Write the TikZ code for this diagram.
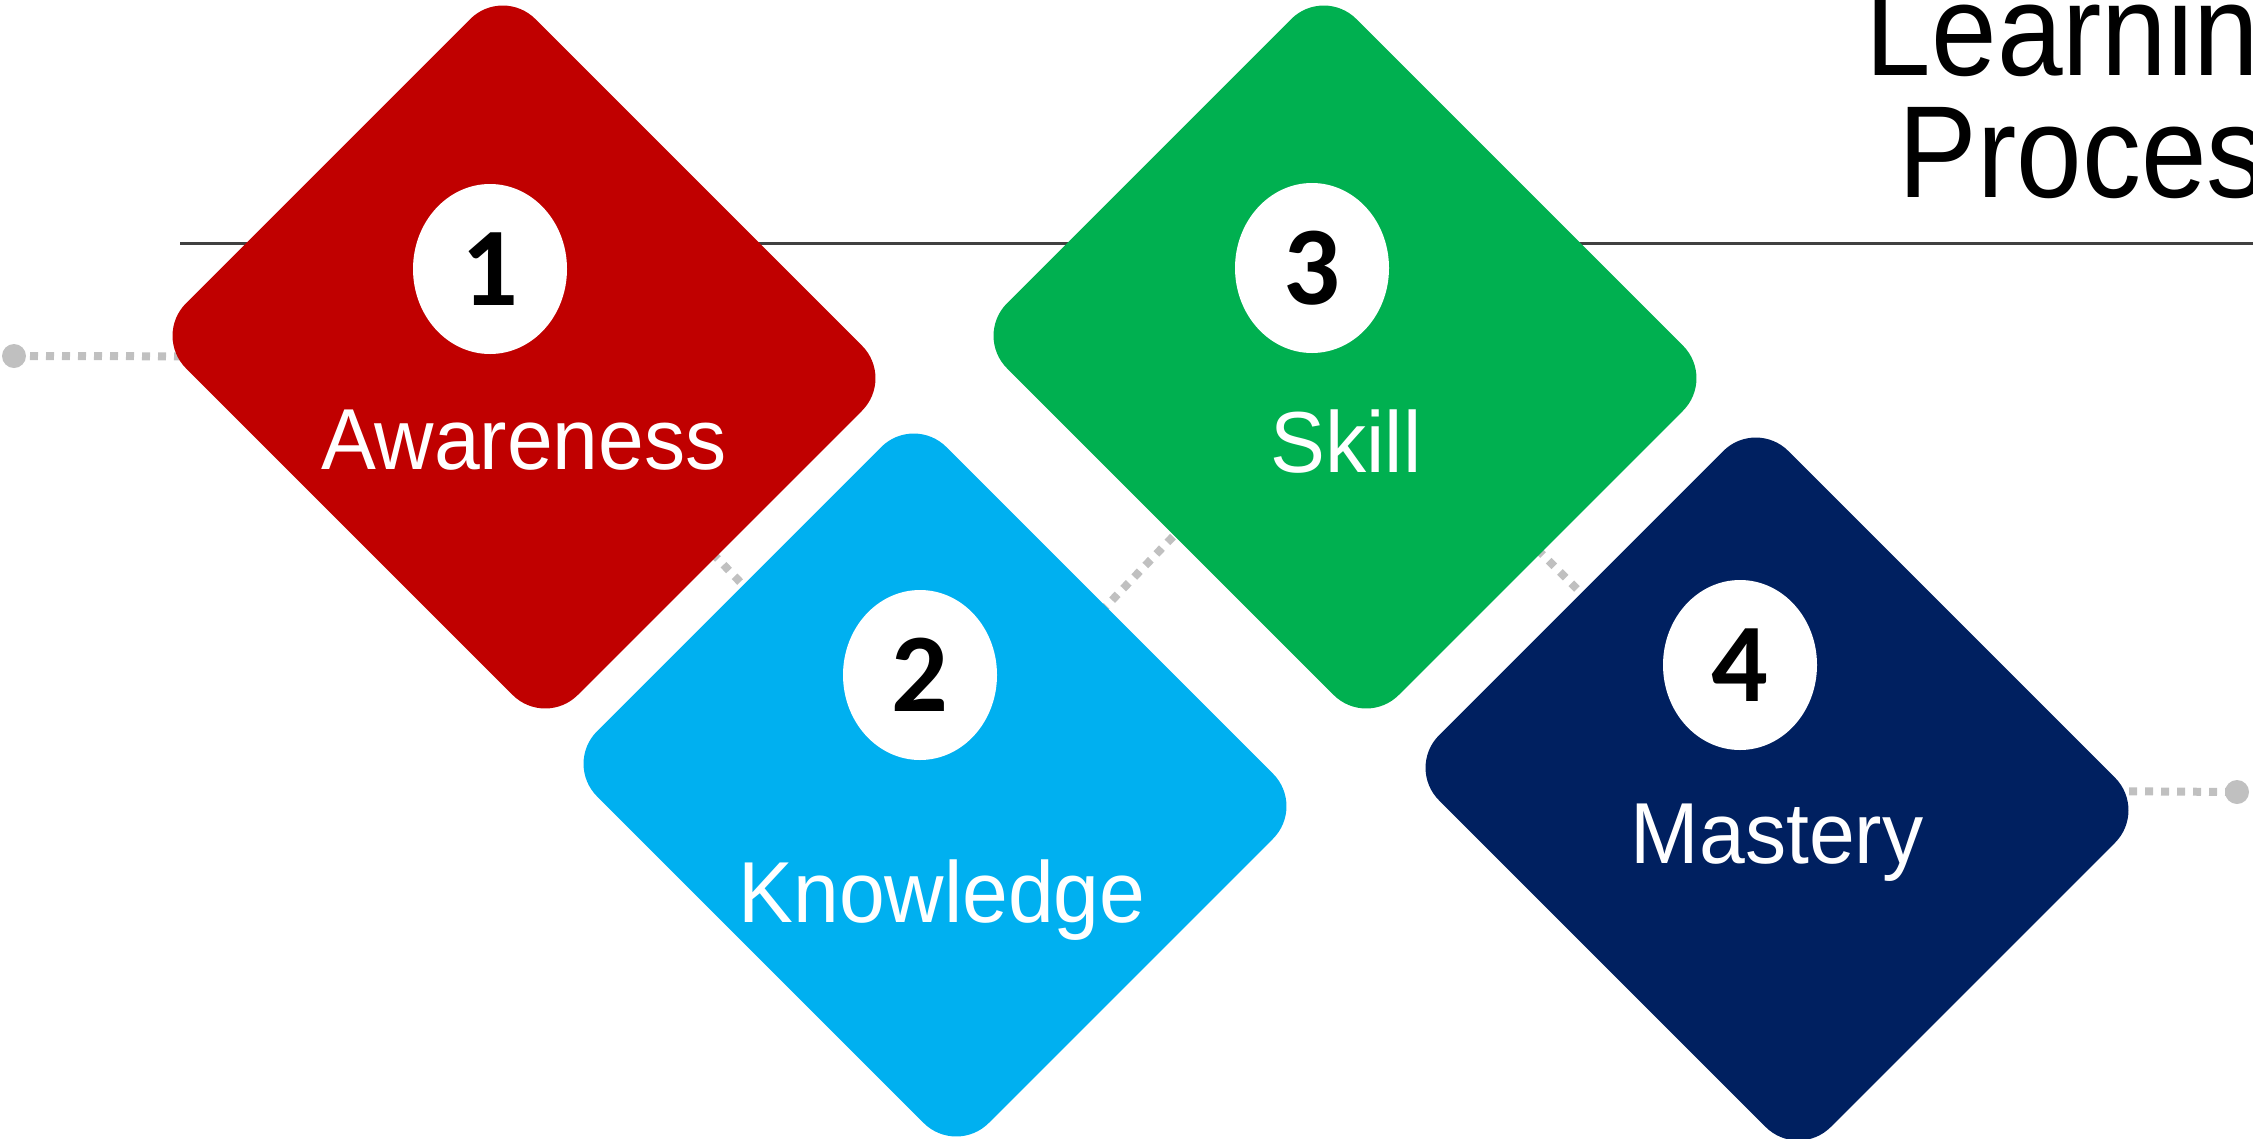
\documentclass[tikz,border=0pt]{standalone}
\usepackage{fontspec}
\usetikzlibrary{shapes.geometric}
\newfontfamily\titlefont[FakeStretch=0.90]{Liberation Sans}
\newfontfamily\labelfont[FakeStretch=0.95]{Liberation Sans}
\newfontfamily\numfont{Carlito}
\definecolor{tilered}{HTML}{C00000}
\definecolor{tileblue}{HTML}{00B0F0}
\definecolor{tilegreen}{HTML}{00B050}
\definecolor{tilenavy}{HTML}{002060}
\definecolor{rulegray}{HTML}{404040}
\definecolor{dotgray}{HTML}{C0C0C0}
\pgfdeclarelayer{bg}
\pgfsetlayers{bg,main}
\tikzset{
  tile/.style={rectangle, rotate=-45, minimum width=554pt, minimum height=494pt,
    rounded corners=46pt, inner sep=0pt, fill=#1},
  badge/.style={ellipse, fill=white, minimum width=154pt, minimum height=170pt,
    inner sep=0pt, font=\numfont\bfseries\fontsize{112}{112}\selectfont},
  caption/.style={text=white, inner sep=0pt, anchor=base,
    font=\labelfont\fontsize{86.6}{90}\selectfont},
  heading/.style={text=black, inner sep=0pt, anchor=base east,
    font=\titlefont\fontsize{131}{131}\selectfont},
  link/.style={draw=dotgray, line width=8pt, dash pattern=on 8pt off 8pt},
  endpt/.style={circle, fill=dotgray, minimum size=24pt, inner sep=0pt},
}
\begin{document}
\begin{tikzpicture}[x=1pt, y=1pt]
\useasboundingbox (0,0) rectangle (2253,-1138);

% title
\node[heading] (t1) at (2325,-75) {Learning};
\node[heading] (t2) at (2325,-197) {Process};

% tiles
\node[tile=tilered]   (aw) at (524,-357) {};
\node[tile=tileblue]  (kn) at (935,-785) {};
\node[tile=tilegreen] (sk) at (1345,-357) {};
\node[tile=tilenavy]  (ms) at (1777,-789) {};

% numbered badges
\node[badge] (b1) at (490,-269) {1};
\node[badge] (b2) at (920,-675) {2};
\node[badge] (b3) at (1312,-268) {3};
\node[badge] (b4) at (1740,-665) {4};

% captions
\node[caption] (l1) at (524,-469) {Awareness};
\node[caption] (l2) at (942,-922) {Knowledge};
\node[caption] (l3) at (1346,-472) {Skill};
\node[caption] (l4) at (1777,-863) {Mastery};

% end points of the path
\node[endpt] (start) at (14,-356) {};
\node[endpt] (finish) at (2237,-792) {};

% rule and dotted path behind the tiles
\coordinate (ruleL) at (180,-243);
\coordinate (ruleR) at (2253,-243);
\begin{pgfonlayer}{bg}
  \draw[rulegray, line width=3pt] (ruleL) -- (ruleR);
  \draw[link] (start.center) -- (aw.center);
  \draw[link] (aw.center) -- (kn.center);
  \draw[link] (kn.center) -- (sk.center);
  \draw[link] (sk.center) -- (ms.center);
  \draw[link] (ms.center) -- (finish.center);
\end{pgfonlayer}
\end{tikzpicture}
\end{document}
